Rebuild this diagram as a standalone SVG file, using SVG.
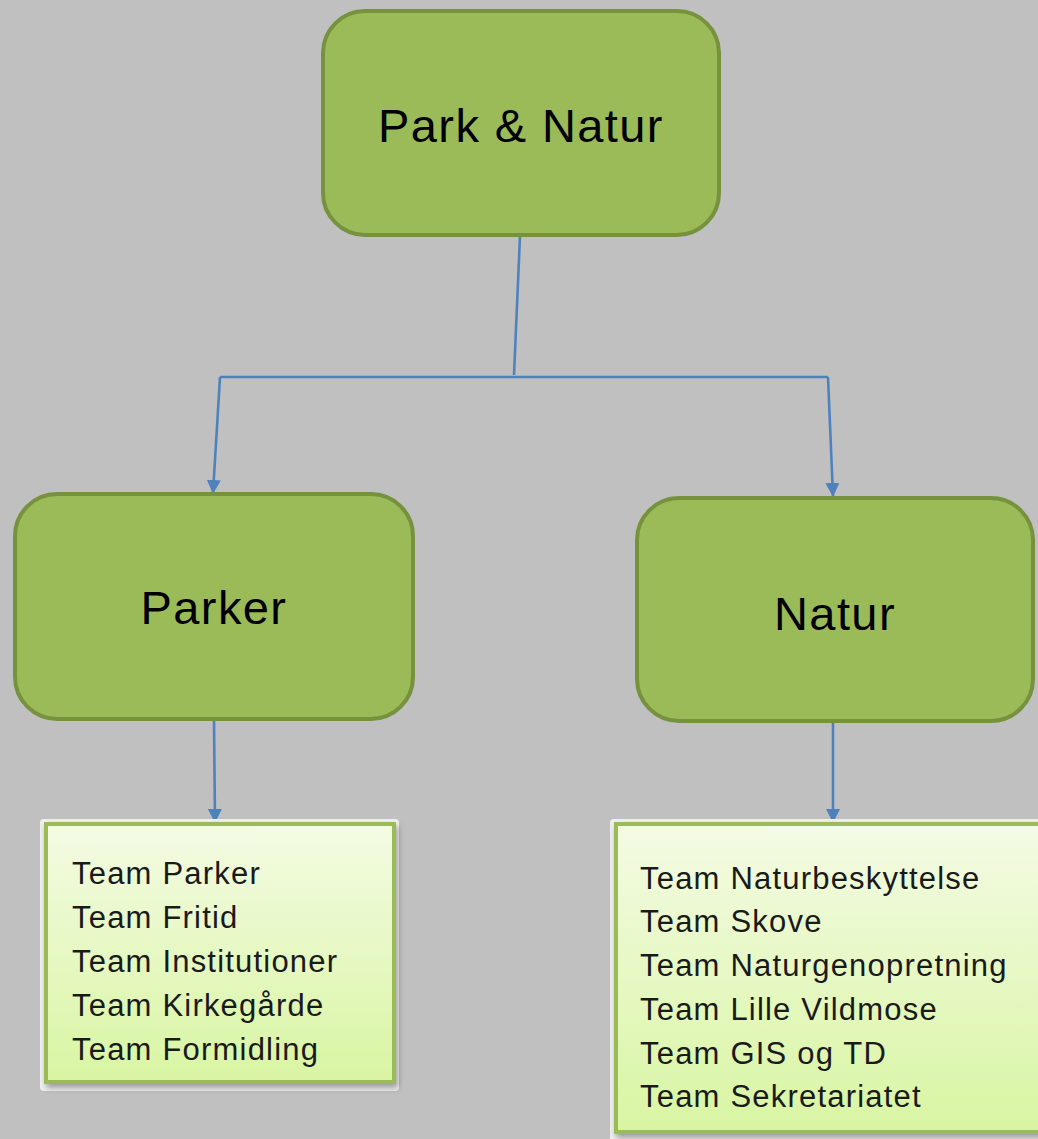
<svg xmlns="http://www.w3.org/2000/svg" width="1038" height="1139" viewBox="0 0 1038 1139">
<style>
.main{fill:#9bbb59;stroke:#76923c;stroke-width:4}
.lbl{font-family:"Liberation Sans",Arial,sans-serif;font-size:47px;letter-spacing:1.4px;fill:#000;text-anchor:middle}
.team{fill:url(#tg);stroke:#9bbb59;stroke-width:4}
.tt{font-family:"Liberation Sans",Arial,sans-serif;font-size:31px;letter-spacing:1.2px;fill:#1a1a1a}
.con{fill:none;stroke:#4f81bd;stroke-width:2.6}
</style>
<defs>
<linearGradient id="tg" x1="0" y1="0" x2="0" y2="1">
<stop offset="0" stop-color="#f4fbe4"/>
<stop offset="1" stop-color="#d8f5a2"/>
</linearGradient>
<filter id="sh" x="-5%" y="-5%" width="115%" height="115%">
<feDropShadow dx="2" dy="4" stdDeviation="3" flood-color="#000" flood-opacity="0.35"/>
</filter>
<marker id="ar" markerWidth="14" markerHeight="14" refX="13" refY="7" orient="auto" markerUnits="userSpaceOnUse">
<path d="M0,0 L14,7 L0,14 Z" fill="#4f81bd"/>
</marker>
</defs>
<rect width="1038" height="1139" fill="#c0c0c0"/>
<g id="connectors">
<path class="con" d="M520,236 L514,375"/>
<path class="con" d="M220,377 L828,377"/>
<path class="con" d="M220,377 L213,493" marker-end="url(#ar)"/>
<path class="con" d="M828,377 L833,496" marker-end="url(#ar)"/>
<path class="con" d="M214,720 L215,822" marker-end="url(#ar)"/>
<path class="con" d="M833,722 L833,822" marker-end="url(#ar)"/>
</g>
<g id="park-natur">
<rect class="main" x="323" y="11" width="396" height="224" rx="42"/>
<text class="lbl" x="521" y="142">Park &amp; Natur</text>
</g>
<g id="parker">
<rect class="main" x="15" y="494" width="398" height="225" rx="42"/>
<text class="lbl" x="214" y="624">Parker</text>
</g>
<g id="natur">
<rect class="main" x="637" y="498" width="396" height="223" rx="42"/>
<text class="lbl" x="835" y="630">Natur</text>
</g>
<g id="team-parker">
<rect x="40" y="819" width="359" height="272" rx="4" fill="#f0f0f0"/>
<rect class="team" x="46" y="824" width="348" height="258" filter="url(#sh)"/>
<text class="tt" x="72" y="884">Team Parker</text>
<text class="tt" x="72" y="928">Team Fritid</text>
<text class="tt" x="72" y="972">Team Institutioner</text>
<text class="tt" x="72" y="1016">Team Kirkegårde</text>
<text class="tt" x="72" y="1060">Team Formidling</text>
</g>
<g id="team-natur">
<rect x="610" y="819" width="440" height="330" rx="4" fill="#f0f0f0"/>
<rect class="team" x="616" y="824" width="430" height="308" filter="url(#sh)"/>
<text class="tt" x="640" y="889">Team Naturbeskyttelse</text>
<text class="tt" x="640" y="932">Team Skove</text>
<text class="tt" x="640" y="976">Team Naturgenopretning</text>
<text class="tt" x="640" y="1020">Team Lille Vildmose</text>
<text class="tt" x="640" y="1064">Team GIS og TD</text>
<text class="tt" x="640" y="1107">Team Sekretariatet</text>
</g>
</svg>
